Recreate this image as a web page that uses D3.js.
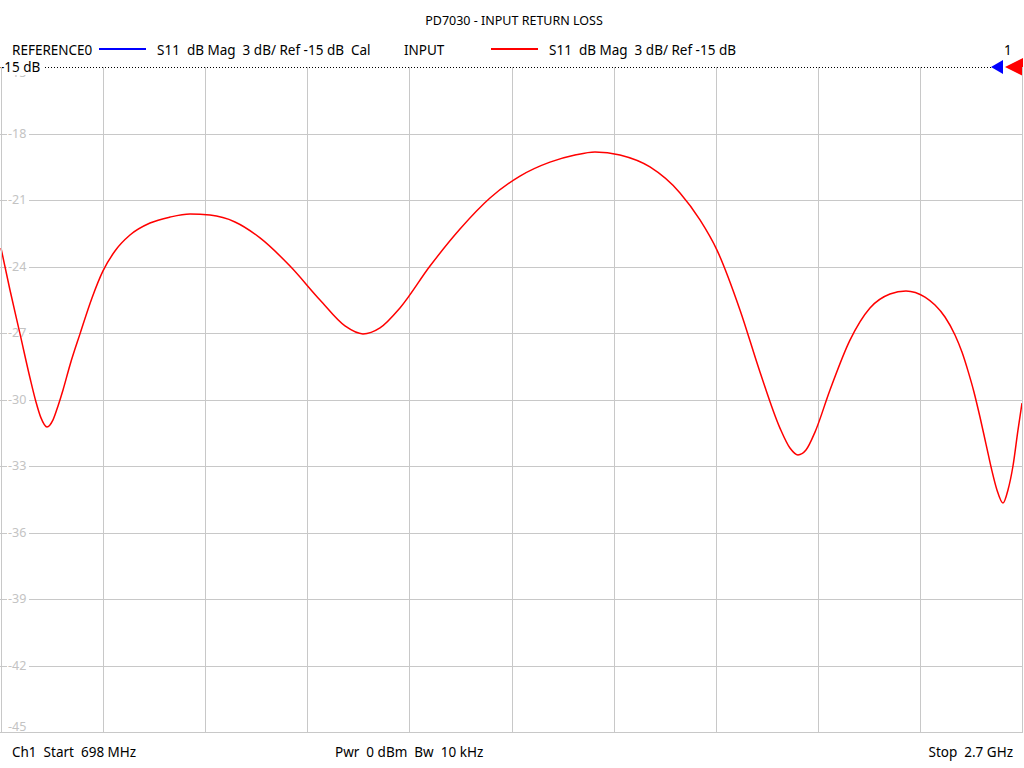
<!DOCTYPE html>
<html><head><meta charset="utf-8">
<script src="https://cdn.jsdelivr.net/npm/d3@7"></script>
<style>
html,body{margin:0;padding:0;background:#fff;}
svg{display:block;font-family:"Noto Sans","Open Sans",sans-serif;}
svg text{white-space:pre;}
</style></head>
<body>
<svg id="chart" width="1024" height="768"></svg>
<script>
// ---- data ----
const title = "PD7030 - INPUT RETURN LOSS";
const freqMHz = [698,715.6,735.3,754.9,766.6,776.4,788.2,800.0,809.8,819.6,833.3,852.9,876.4,898.0,921.5,950.9,990.2,1029.4,1068.6,1107.8,1156.8,1205.9,1264.7,1323.5,1372.5,1407.8,1441.1,1480.3,1539.2,1598.0,1656.8,1715.6,1774.4,1823.5,1862.7,1911.7,1970.5,2029.4,2068.6,2101.9,2147.0,2186.2,2225.4,2245.0,2260.7,2276.4,2294.1,2323.5,2362.7,2401.9,2441.1,2472.5,2509.8,2529.4,2549.0,2568.6,2582.3,2594.1,2605.8,2617.6,2629.4,2641.1,2650.9,2662.7,2672.5,2682.3,2692.1,2700];
const s11dB = [-23.17,-25.06,-27.04,-29.03,-30.11,-30.83,-31.24,-30.92,-30.29,-29.57,-28.44,-27.04,-25.42,-24.20,-23.30,-22.58,-22.04,-21.77,-21.63,-21.68,-21.99,-22.71,-23.98,-25.51,-26.68,-27.04,-26.77,-25.87,-23.98,-22.31,-20.91,-19.92,-19.29,-18.97,-18.83,-18.97,-19.51,-20.68,-21.90,-23.26,-25.96,-28.76,-31.29,-32.19,-32.50,-32.28,-31.47,-29.57,-27.32,-25.87,-25.24,-25.10,-25.38,-25.74,-26.28,-27.09,-27.86,-28.71,-29.66,-30.79,-32.01,-33.22,-34.08,-34.67,-34.08,-33.00,-31.38,-30.16];
const yTicks = [-15,-18,-21,-24,-27,-30,-33,-36,-39,-42,-45];
const startMHz = 698, stopMHz = 2700, xDivisions = 10;
const legendItems = [
  {name:"REFERENCE0", color:"#0000ff", desc:"S11  dB Mag  3 dB/ Ref -15 dB  Cal"},
  {name:"INPUT", color:"#ff0000", desc:"S11  dB Mag  3 dB/ Ref -15 dB"}
];
const footer = ["Ch1  Start  698 MHz", "Pwr  0 dBm  Bw  10 kHz", "Stop  2.7 GHz"];

// ---- layout ----
const svg = d3.select("#chart");
const L = 1, R = 1022, T = 67, B = 732;
const x = d3.scaleLinear().domain([startMHz, stopMHz]).range([L, R]);
const y = d3.scaleLinear().domain([-45, -15]).range([B, T]);

// vertical grid
const xGrid = d3.range(xDivisions + 1).map(i => startMHz + i * (stopMHz - startMHz) / xDivisions);
const grid = svg.append("g").attr("stroke", "#c8c8c8").attr("stroke-width", 1).attr("shape-rendering","crispEdges");
grid.selectAll("line.v").data(xGrid).join("line")
  .attr("x1", d => Math.round(x(d)) + 0.5).attr("x2", d => Math.round(x(d)) + 0.5)
  .attr("y1", T).attr("y2", B);
grid.selectAll("line.h").data(yTicks.filter(d => d !== -15)).join("line")
  .attr("x1", 0).attr("x2", R + 1)
  .attr("y1", d => Math.round(y(d)) + 0.5).attr("y2", d => Math.round(y(d)) + 0.5);

// y tick labels
svg.append("clipPath").attr("id", "topclip").append("rect").attr("x", 0).attr("y", 75).attr("width", 40).attr("height", 20);
const lab = svg.append("g").attr("font-size", 12.5).attr("fill", "#c3c3c3");
yTicks.forEach(d => {
  let yy = y(d);
  if (d === -45) { yy = B - 5; }
  if (d === -15) { yy = T + 6; }
  const g = lab.append("g");
  if (d === -15) g.attr("clip-path", "url(#topclip)");
  g.append("rect").attr("x", 7).attr("y", yy - 7).attr("width", 22).attr("height", 14).attr("fill", "#fff");
  g.append("text").attr("x", 8).attr("y", yy).attr("dy", "0.35em").text(d);
});

// curve
const line = d3.line().x((d, i) => x(freqMHz[i])).y(d => y(d)).curve(d3.curveMonotoneX);
svg.append("path").datum(s11dB).attr("d", line)
  .attr("fill", "none").attr("stroke", "#ff0000").attr("stroke-width", 1.5);

// reference line (dotted)
svg.append("line").attr("x1", 0).attr("x2", 992).attr("y1", T + 0.5).attr("y2", T + 0.5)
  .attr("stroke", "#000").attr("stroke-width", 1).attr("stroke-dasharray", "1,2");
svg.append("rect").attr("x", 0).attr("y", 59).attr("width", 43).attr("height", 15).attr("fill", "#fff");
svg.append("text").attr("x", 0).attr("y", 72).attr("font-size", 13.5).attr("fill", "#000").text("-15 dB");

// reference markers
svg.append("path").attr("d", "M991,67 L1003,60 L1003,74 Z").attr("fill", "#0000ff");
svg.append("path").attr("d", "M1005,67 L1023,58 L1023,76 Z").attr("fill", "#ff0000");
svg.append("text").attr("x", 1004).attr("y", 55).attr("font-size", 13.5).attr("fill", "#000").text("1");

// border
svg.append("g").attr("stroke", "#c8c8c8").attr("shape-rendering","crispEdges")
  .call(g => {
    g.append("line").attr("x1", L + 0.5).attr("x2", L + 0.5).attr("y1", T).attr("y2", B + 1);
    g.append("line").attr("x1", R + 0.5).attr("x2", R + 0.5).attr("y1", T).attr("y2", B + 1);
    g.append("line").attr("x1", 0).attr("x2", R + 1).attr("y1", B + 0.5).attr("y2", B + 0.5);
  });

// title
svg.append("text").attr("x", 514).attr("y", 25).attr("text-anchor", "middle")
  .attr("font-size", 12.5).attr("fill", "#000").text(title);

// legend
const legPos = [{nx:12, lx:99, dx:157}, {nx:404, lx:491, dx:549}];
legendItems.forEach((it, i) => {
  const p = legPos[i];
  svg.append("text").attr("x", p.nx).attr("y", 55).attr("font-size", 13.5).attr("fill", "#000").text(it.name);
  svg.append("line").attr("x1", p.lx).attr("x2", p.lx + 47).attr("y1", 49).attr("y2", 49)
    .attr("stroke", it.color).attr("stroke-width", 2);
  svg.append("text").attr("x", p.dx).attr("y", 55).attr("font-size", 13.5).attr("fill", "#000").text(it.desc);
});

// footer
svg.append("text").attr("x", 12).attr("y", 757).attr("font-size", 13.5).attr("fill", "#000").text(footer[0]);
svg.append("text").attr("x", 335).attr("y", 757).attr("font-size", 13.5).attr("fill", "#000").text(footer[1]);
svg.append("text").attr("x", 1013).attr("y", 757).attr("text-anchor", "end").attr("font-size", 13.5).attr("fill", "#000").text(footer[2]);
</script>
</body></html>
